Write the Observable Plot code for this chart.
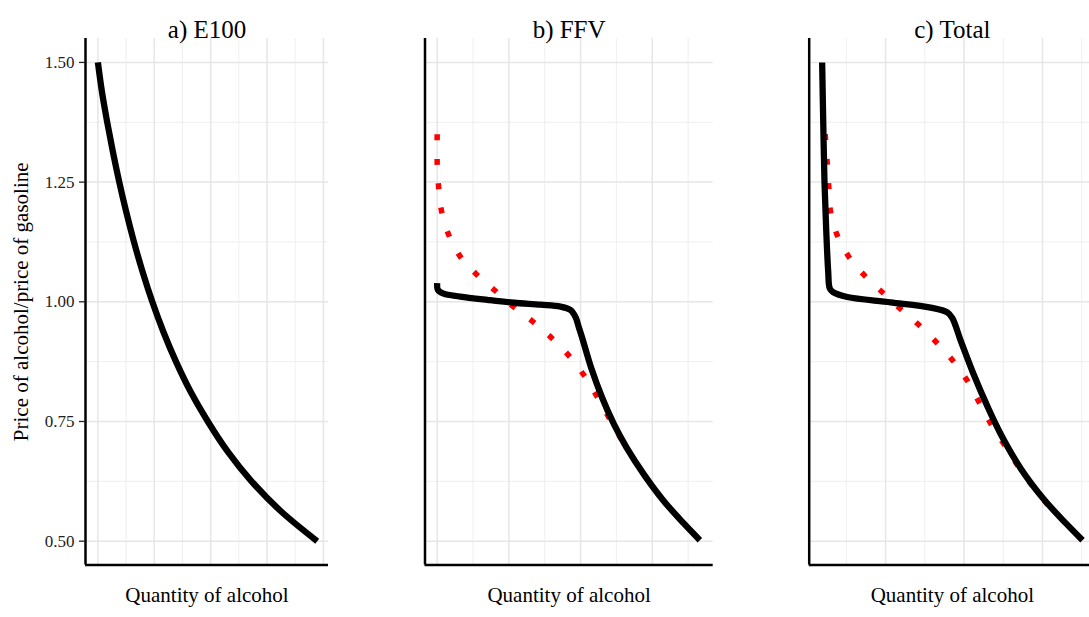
<!DOCTYPE html>
<html>
<head>
<meta charset="utf-8">
<script src="https://cdn.jsdelivr.net/npm/d3@7"></script>
<script src="https://cdn.jsdelivr.net/npm/@observablehq/plot@0.6"></script>
<style>
  html, body { margin: 0; padding: 0; background: #fff; }
  #chart { position: relative; width: 1089px; height: 617px; overflow: hidden; background: #fff; }
  #chart svg { position: absolute; top: 0; }
</style>
</head>
<body>
<div id="chart"></div>
<script>
// ---------- data ----------
const titles = ["a) E100", "b) FFV", "c) Total"];
const xTitle = "Quantity of alcohol";
const yTitle = "Price of alcohol/price of gasoline";

const yMajor = [0.5, 0.75, 1.0, 1.25, 1.5];
const yMinor = [0.625, 0.875, 1.125, 1.375];
const yDomain = [0.45, 1.55];

// a) E100 demand (black)
const priceE100 = [1.5, 1.4375, 1.375, 1.3125, 1.25, 1.1875, 1.125, 1.0625, 1.0, 0.9375, 0.875, 0.8125, 0.75, 0.6875, 0.625, 0.5625, 0.5];
const qtyE100   = [0.00, 0.073, 0.165, 0.267, 0.379, 0.503, 0.640, 0.793, 0.965, 1.161, 1.385, 1.643, 1.950, 2.300, 2.725, 3.246, 3.89];

// b) FFV demand (black) and dotted alternative (red)
const priceFFV = [1.039, 1.025, 1.017, 1.011, 1.004, 0.998, 0.994, 0.990, 0.983, 0.968, 0.947, 0.926, 0.861, 0.800, 0.746, 0.696, 0.638, 0.584, 0.537, 0.502];
const qtyFFV   = [0.00, 0.01, 0.09, 0.32, 0.70, 1.07, 1.44, 1.72, 1.86, 1.93, 1.975, 2.02, 2.15, 2.30, 2.46, 2.64, 2.89, 3.16, 3.44, 3.664];
const priceFFVdot = [1.35, 1.29, 1.24, 1.19, 1.14, 1.095, 1.057, 1.023, 0.989, 0.958, 0.924, 0.887, 0.846, 0.802, 0.757, 0.70, 0.638, 0.584, 0.537, 0.502];
const qtyFFVdot   = [0.00, 0.00, 0.02, 0.06, 0.16, 0.32, 0.55, 0.81, 1.07, 1.34, 1.60, 1.84, 2.05, 2.23, 2.40, 2.62, 2.89, 3.16, 3.44, 3.664];

// c) Total demand (black) and dotted alternative (red)
const priceTot = [1.5, 1.375, 1.25, 1.15, 1.064, 1.028, 1.020, 1.010, 0.999, 0.988, 0.978, 0.966, 0.919, 0.847, 0.782, 0.724, 0.652, 0.587, 0.537, 0.502];
const qtyTot   = [0.191, 0.205, 0.221, 0.243, 0.268, 0.288, 0.33, 0.511, 1.063, 1.574, 1.787, 1.851, 1.957, 2.126, 2.297, 2.467, 2.722, 3.020, 3.300, 3.510];
const priceTotDot = [1.35, 1.291, 1.240, 1.190, 1.139, 1.094, 1.055, 1.019, 0.985, 0.951, 0.915, 0.877, 0.835, 0.791, 0.746, 0.70, 0.652, 0.587, 0.537, 0.502];
const qtyTotDot   = [0.23, 0.255, 0.276, 0.297, 0.383, 0.531, 0.731, 0.965, 1.191, 1.429, 1.650, 1.858, 2.042, 2.190, 2.339, 2.52, 2.71, 3.01, 3.30, 3.51];

// x scales / grid per panel
const xDomainA = [-0.22, 4.09], xMajorA = [0, 1, 2, 3, 4], xMinorA = [0.5, 1.5, 2.5, 3.5];
const xDomainB = [-0.17, 3.85], xMajorB = [0, 1, 2, 3],    xMinorB = [0.5, 1.5, 2.5, 3.5];
const xDomainC = [0.026, 3.676], xMajorC = [1, 2, 3],      xMinorC = [0.5, 1.5, 2.5, 3.5];

// ---------- drawing ----------
const GRID = "#ebebeb";
const FONT = "'Liberation Serif', 'Times New Roman', serif";
const zip = (q, p) => q.map((v, i) => ({q: v, p: p[i]}));

function makePanel(cfg) {
  const marks = [
    Plot.ruleY(yMinor, {stroke: GRID, strokeWidth: 0.8}),
    Plot.ruleX(cfg.xMinor, {stroke: GRID, strokeWidth: 0.8}),
    Plot.ruleY(yMajor, {stroke: "#e6e6e6", strokeWidth: 1.5}),
    Plot.ruleX(cfg.xMajor, {stroke: "#e6e6e6", strokeWidth: 1.5})
  ];
  if (cfg.red) {
    marks.push(Plot.line(cfg.red, {x: "q", y: "p", stroke: "#ff0000", strokeWidth: 5.5,
      strokeDasharray: "6,18.5", strokeLinecap: "butt", curve: "catmull-rom"}));
  }
  marks.push(Plot.line(cfg.black, {x: "q", y: "p", stroke: "#000", strokeWidth: 6.3,
    strokeLinejoin: "round", strokeLinecap: "butt", curve: "catmull-rom"}));
  marks.push(Plot.ruleX([cfg.xDomain[0]], {stroke: "#000", strokeWidth: 2.5}));
  marks.push(Plot.ruleY([yDomain[0]], {stroke: "#000", strokeWidth: 2.5}));
  if (cfg.showY) {
    marks.push(Plot.axisY({ticks: yMajor, tickFormat: d3.format(".2f"), tickSize: 6, tickPadding: 5,
      fontSize: 17, fontFamily: FONT, color: "#222", strokeWidth: 1.3, label: null}));
    marks.push(Plot.text([yTitle], {text: d => d, frameAnchor: "left", textAnchor: "middle", dx: -64,
      rotate: -90, fontSize: 21, fill: "#000"}));
  }
  marks.push(Plot.text([cfg.title], {text: d => d, frameAnchor: "top", dy: -18, fontSize: 25, fill: "#000"}));
  marks.push(Plot.text([xTitle], {text: d => d, frameAnchor: "bottom", dy: 37, fontSize: 21, fill: "#000"}));

  const svg = Plot.plot({
    width: cfg.width, height: 617,
    marginLeft: cfg.marginLeft, marginRight: cfg.marginRight,
    marginTop: 38, marginBottom: 52.4,
    x: {domain: cfg.xDomain, axis: null},
    y: {domain: yDomain, axis: null},
    style: {fontFamily: FONT, background: "transparent", overflow: "visible"},
    marks
  });
  svg.style.left = cfg.left + "px";
  return svg;
}

const chart = document.getElementById("chart");
chart.appendChild(makePanel({
  left: 0, width: 340, marginLeft: 85, marginRight: 12,
  xDomain: xDomainA, xMajor: xMajorA, xMinor: xMinorA, title: titles[0],
  black: zip(qtyE100, priceE100), showY: true
}));
chart.appendChild(makePanel({
  left: 363, width: 363, marginLeft: 61.5, marginRight: 13.3,
  xDomain: xDomainB, xMajor: xMajorB, xMinor: xMinorB, title: titles[1],
  black: zip(qtyFFV, priceFFV), red: zip(qtyFFVdot, priceFFVdot)
}));
chart.appendChild(makePanel({
  left: 726, width: 369, marginLeft: 82.7, marginRight: 0,
  xDomain: xDomainC, xMajor: xMajorC, xMinor: xMinorC, title: titles[2],
  black: zip(qtyTot, priceTot), red: zip(qtyTotDot, priceTotDot)
}));
</script>
</body>
</html>
